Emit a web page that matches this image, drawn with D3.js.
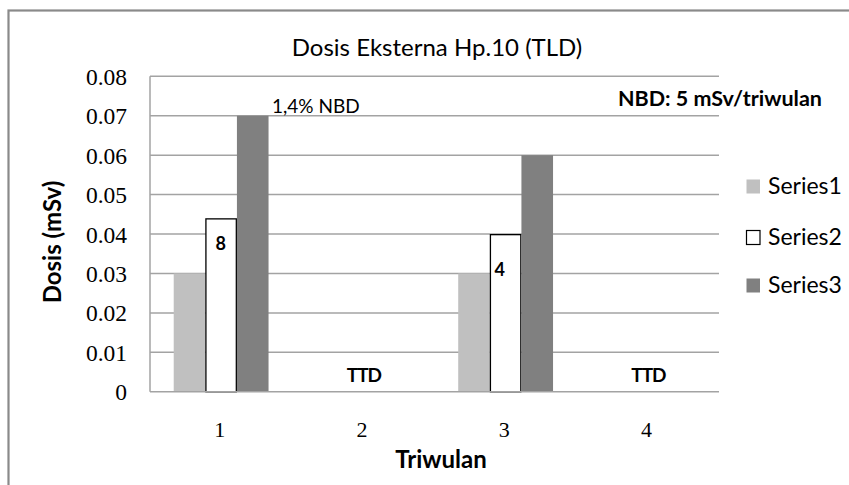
<!DOCTYPE html>
<html>
<head>
<meta charset="utf-8">
<script src="https://cdn.jsdelivr.net/npm/d3@7"></script>
<style>
  html, body { margin: 0; padding: 0; background: #fff; }
  svg { display: block; }
</style>
</head>
<body>
<svg id="chart" width="849" height="485"></svg>
<script>
// ---- data ----
const categories = ["1", "2", "3", "4"];
const seriesNames = ["Series1", "Series2", "Series3"];
const series1 = [0.03, 0, 0.03, 0];
const series2 = [0.044, 0, 0.04, 0];
const series3 = [0.07, 0, 0.06, 0];
const yTicks = [0, 0.01, 0.02, 0.03, 0.04, 0.05, 0.06, 0.07, 0.08];
const seriesColors = ["#c0c0c0", "#ffffff", "#808080"];
const seriesStrokes = ["none", "#000000", "none"];
// annotations: [category, series index, text]
const barLabels = [["1", 1, "8"], ["3", 1, "4"]];
const ttdLabels = ["2", "4"];

const svg = d3.select("#chart");
const W = 849, H = 485;
const sansFont = "Lato, 'Open Sans', sans-serif";
const serifFont = "'Liberation Serif', 'DejaVu Serif', serif";

// outer chart border
svg.append("rect").attr("x", 8.5).attr("y", 10.5).attr("width", W + 10).attr("height", H + 10)
  .attr("fill", "#fff").attr("stroke", "#8a8a8a").attr("stroke-width", 2.2);

const plot = { left: 150, right: 719, top: 76.3, bottom: 391.8 };

const x = d3.scaleBand().domain(categories).range([plot.left, plot.right]).paddingInner(0).paddingOuter(0);
const groupPad = 0.5 * x.bandwidth() * (1.5 / 4.5);
const xs = d3.scaleBand().domain(seriesNames)
  .range([groupPad, x.bandwidth() - groupPad]).padding(0);
const y = d3.scaleLinear().domain([0, 0.08]).range([plot.bottom, plot.top]);

// gridlines
svg.append("g").selectAll("line").data(yTicks.filter(d => d > 0)).join("line")
  .attr("x1", plot.left).attr("x2", plot.right)
  .attr("y1", d => y(d)).attr("y2", d => y(d))
  .attr("stroke", "#a3a3a3").attr("stroke-width", 1.5);

// y axis
const yAxis = d3.axisLeft(y).tickValues(yTicks).tickSize(0).tickPadding(23)
  .tickFormat(d => d === 0 ? "0" : d3.format(".2f")(d));
const yg = svg.append("g").attr("transform", `translate(${plot.left},0)`).call(yAxis);
yg.attr("font-family", null).attr("font-size", null);
yg.select(".domain").remove();
yg.selectAll("text").attr("dy", "0.34em")
  .style("font-family", serifFont).style("font-size", "23.5px").attr("fill", "#000");

// bars
const allSeries = [series1, series2, series3];
allSeries.forEach((vals, si) => {
  const inset = si === 1 ? 0.6 : 0;
  svg.append("g").selectAll("rect").data(categories.map((c, i) => ({ c, v: vals[i] })).filter(d => d.v > 0)).join("rect")
    .attr("x", d => x(d.c) + xs(seriesNames[si]) + inset)
    .attr("y", d => y(d.v) + inset)
    .attr("width", xs.bandwidth() - 2 * inset)
    .attr("height", d => plot.bottom - y(d.v) - inset)
    .attr("fill", seriesColors[si])
    .attr("stroke", seriesStrokes[si]).attr("stroke-width", 1.3);
});

// axis lines
svg.append("line").attr("x1", plot.left).attr("x2", plot.left).attr("y1", plot.top).attr("y2", plot.bottom)
  .attr("stroke", "#a3a3a3").attr("stroke-width", 1.5);
svg.append("line").attr("x1", plot.left).attr("x2", plot.right).attr("y1", plot.bottom).attr("y2", plot.bottom)
  .attr("stroke", "#a3a3a3").attr("stroke-width", 1.6);

// x axis
const xAxis = d3.axisBottom(x).tickSize(0).tickPadding(0);
const xg = svg.append("g").attr("transform", `translate(0,${plot.bottom})`).call(xAxis);
xg.attr("font-family", null).attr("font-size", null);
xg.select(".domain").remove();
xg.selectAll("text").attr("y", 45).attr("dy", null).attr("dx", -1.5)
  .style("font-family", serifFont).style("font-size", "22px").attr("fill", "#000");

// title
svg.append("text").attr("x", 437).attr("y", 56).attr("text-anchor", "middle")
  .style("font-family", sansFont).style("font-size", "24px").attr("fill", "#000")
  .text("Dosis Eksterna Hp.10 (TLD)");

// axis titles
svg.append("text").attr("transform", "translate(61,242) rotate(-90)").attr("text-anchor", "middle")
  .style("font-family", sansFont).style("font-weight", "bold").style("font-size", "24px").attr("fill", "#000")
  .text("Dosis (mSv)");
svg.append("text").attr("x", 441).attr("y", 468).attr("text-anchor", "middle")
  .style("font-family", sansFont).style("font-weight", "bold").style("font-size", "24px").attr("fill", "#000")
  .text("Triwulan");

// annotations
svg.append("text").attr("x", 272).attr("y", 113)
  .style("font-family", sansFont).style("font-size", "19px").attr("fill", "#000").text("1,4% NBD");
svg.append("text").attr("x", 822).attr("y", 106).attr("text-anchor", "end")
  .style("font-family", sansFont).style("font-weight", "bold").style("font-size", "21.5px").attr("fill", "#000")
  .text("NBD: 5 mSv/triwulan");
const labelDrop = { "1": 32, "3": 42 };
const labelShift = { "1": -0.5, "3": -6 };
barLabels.forEach(([c, si, t]) => {
  const v = allSeries[si][categories.indexOf(c)];
  svg.append("text").attr("x", x(c) + xs(seriesNames[si]) + xs.bandwidth() / 2 + labelShift[c])
    .attr("y", y(v) + labelDrop[c])
    .attr("text-anchor", "middle").style("font-family", sansFont).style("font-weight", "bold")
    .style("font-size", "18px").attr("fill", "#000").text(t);
});
ttdLabels.forEach(c => {
  svg.append("text").attr("x", x(c) + x.bandwidth() / 2 + 0.5).attr("y", 382)
    .attr("text-anchor", "middle").style("font-family", sansFont).style("font-weight", "bold")
    .style("font-size", "19px").style("letter-spacing", "-1px").attr("fill", "#000").text("TTD");
});

// legend
const legY = [186.5, 237.5, 285.5];
seriesNames.forEach((n, i) => {
  svg.append("rect").attr("x", 746.5).attr("y", legY[i] - 7).attr("width", 13.5).attr("height", 14)
    .attr("fill", seriesColors[i]).attr("stroke", i === 1 ? "#000" : "none").attr("stroke-width", 1.2);
  svg.append("text").attr("x", 768).attr("y", legY[i] + 7.5)
    .style("font-family", sansFont).style("font-size", "23px").attr("fill", "#000").text(n);
});
</script>
</body>
</html>
